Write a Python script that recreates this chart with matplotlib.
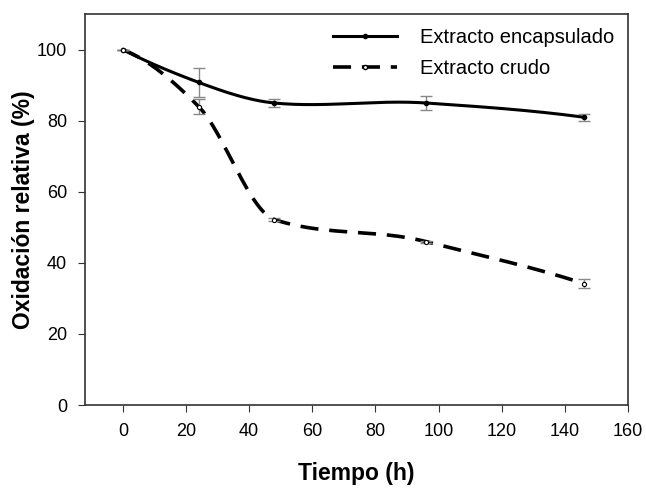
import numpy as np
import matplotlib.pyplot as plt

plt.rcParams['font.family'] = ['Liberation Sans', 'DejaVu Sans']

tiempo = [0, 24, 48, 96, 146]
encapsulado = [100, 90.8, 85.0, 85.0, 81.0]
encapsulado_err = [0, 4.0, 1.0, 2.0, 1.0]
crudo = [100, 84.0, 52.2, 46.0, 34.2]
crudo_err = [0, 2.0, 0.3, 0.3, 1.2]


def akima(x, y, n=300):
    # Akima spline, gives the smooth look of the original curves
    x = np.asarray(x, float)
    y = np.asarray(y, float)
    h = np.diff(x)
    d = np.diff(y) / h
    # extend slopes at both ends
    d = np.concatenate([[3 * d[0] - 2 * d[1], 2 * d[0] - d[1]], d,
                        [2 * d[-1] - d[-2], 3 * d[-1] - 2 * d[-2]]])
    k = len(x)
    m = np.zeros(k)
    for i in range(k):
        w1 = abs(d[i + 3] - d[i + 2])
        w2 = abs(d[i + 1] - d[i])
        if w1 + w2 == 0:
            m[i] = (d[i + 1] + d[i + 2]) / 2
        else:
            m[i] = (w1 * d[i + 1] + w2 * d[i + 2]) / (w1 + w2)
    xs = np.linspace(x[0], x[-1], n)
    ys = np.empty_like(xs)
    for j, t in enumerate(xs):
        i = min(np.searchsorted(x, t, side='right') - 1, k - 2)
        s = (t - x[i]) / h[i]
        h00 = 2 * s**3 - 3 * s**2 + 1
        h10 = s**3 - 2 * s**2 + s
        h01 = -2 * s**3 + 3 * s**2
        h11 = s**3 - s**2
        ys[j] = h00 * y[i] + h10 * h[i] * m[i] + h01 * y[i + 1] + h11 * h[i] * m[i + 1]
    return xs, ys


fig = plt.figure(figsize=(6.46, 4.88), dpi=100)
ax = fig.add_axes([0.1316, 0.17, 0.8404, 0.801])

xs, ys = akima(tiempo, encapsulado)
ax.plot(xs, ys, color="black", lw=2.2)
xs2, ys2 = akima(tiempo, crudo)
ax.plot(xs2, ys2, color="black", lw=2.6, dashes=(5, 3))

ax.errorbar(tiempo, encapsulado, yerr=encapsulado_err, fmt="none", ecolor="#888888",
            elinewidth=1, capsize=4, capthick=1)
ax.errorbar(tiempo, crudo, yerr=crudo_err, fmt="none", ecolor="#888888",
            elinewidth=1, capsize=4, capthick=1)
ax.plot(tiempo, encapsulado, "o", color="black", ms=3, zorder=5)
ax.plot(tiempo, crudo, "o", mfc="white", mec="black", ms=3, mew=0.8, zorder=5)

# legend handles with markers
h1, = ax.plot([], [], color="black", lw=2.2, marker="o", ms=3)
h2, = ax.plot([], [], color="black", lw=2.6, dashes=(5, 3), marker="o", ms=3,
              mfc="white", mec="black")
ax.legend([h1, h2], ["Extracto encapsulado", "Extracto crudo"], loc="upper right",
          frameon=False, fontsize=14.5, handlelength=3.2, handletextpad=1.1,
          borderaxespad=0.3, labelspacing=0.6)

ax.set_xlim(-12, 160)
ax.set_ylim(0, 110)
ax.set_xticks(range(0, 161, 20))
ax.set_yticks(range(0, 101, 20))
ax.tick_params(labelsize=13, direction="out", length=5, color="#333333", pad=8)
for s in ax.spines.values():
    s.set_color("#333333")
    s.set_linewidth(1.2)

ax.set_xlabel("Tiempo (h)", fontsize=16.5, fontweight="bold", labelpad=16)
ax.set_ylabel("Oxidación relativa (%)", fontsize=16.5, fontweight="bold")
ax.yaxis.set_label_coords(-0.092, 0.5)

plt.savefig("out.png", dpi=100)
